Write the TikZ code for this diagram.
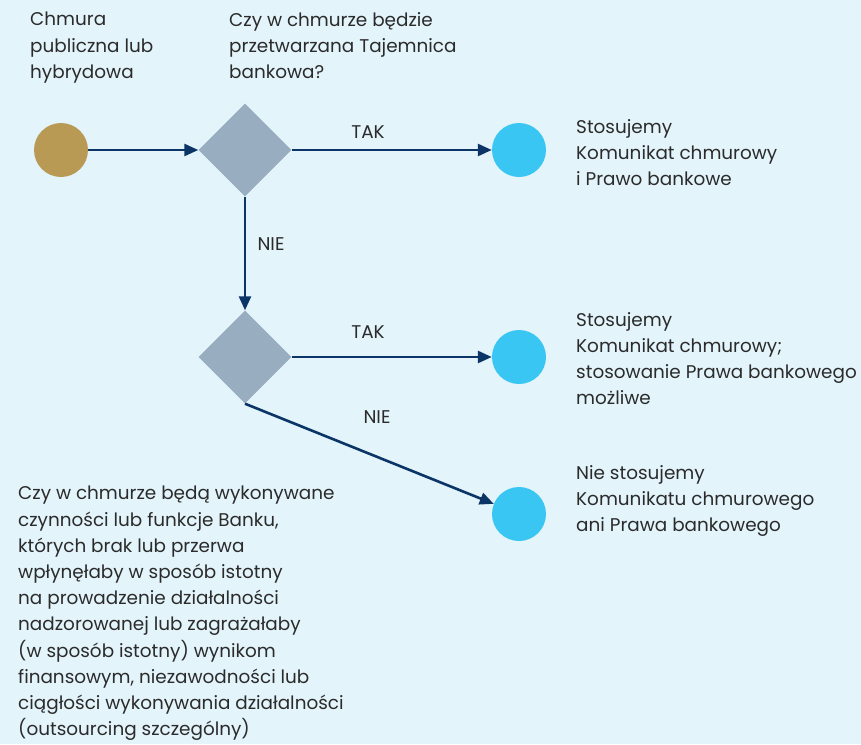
\documentclass[tikz,border=0pt]{standalone}
\usepackage{fontspec}
\setmainfont{Poppins}
\usetikzlibrary{arrows.meta,shapes.geometric}
\definecolor{bgblue}{HTML}{E3F4FB}
\definecolor{navy}{HTML}{0B3566}
\definecolor{gold}{HTML}{B89A55}
\definecolor{sky}{HTML}{3AC6F2}
\definecolor{slate}{HTML}{99ADC1}
\definecolor{ink}{HTML}{2B2B2B}
\begin{document}
\begin{tikzpicture}[x=1pt,y=-1pt,
  every node/.style={font=\fontsize{18.4}{26.2}\selectfont, text=ink},
  dot/.style={circle, minimum size=54pt, inner sep=0pt, draw=none},
  startdot/.style={dot, fill=gold},
  enddot/.style={dot, fill=sky},
  decision/.style={diamond, aspect=1, minimum size=93pt, inner sep=0pt, fill=slate, draw=none},
  flow/.style={draw=navy, line width=2.6pt, -{Triangle[length=14pt,width=12pt]}},
  txt/.style={anchor=north west, align=left, inner sep=0pt},
  lbl/.style={inner sep=0pt}]
  % canvas
  \fill[bgblue] (0,0) rectangle (861,744);
  \useasboundingbox (0,0) rectangle (861,744);

  % nodes
  \node[startdot] (start) at (61,150) {};
  \node[decision] (q1) at (245,150) {};
  \node[decision] (q2) at (245,357) {};
  \node[enddot] (r1) at (519,150) {};
  \node[enddot] (r2) at (519,357) {};
  \node[enddot] (r3) at (519,514) {};

  % connectors
  \draw[flow] (start) -- (q1.west);
  \draw[flow] (q1.east) -- (r1);
  \draw[flow] (q1.south) -- (q2.north);
  \draw[flow] (q2.east) -- (r2);
  \draw[flow] (q2.south) -- (r3);

  % branch labels
  \node[lbl] (tak1) at (368,132) {TAK};
  \node[lbl] (nie1) at (271,244) {NIE};
  \node[lbl] (tak2) at (368,332) {TAK};
  \node[lbl] (nie2) at (377,417) {NIE};

  % descriptions
  \node[txt] (tstart) at (30,12) {Chmura\\publiczna lub\\hybrydowa};
  \node[txt] (tq1) at (229,12) {Czy w chmurze będzie\\przetwarzana Tajemnica\\bankowa?};
  \node[txt] (tr1) at (576,119) {Stosujemy\\Komunikat chmurowy\\i Prawo bankowe};
  \node[txt] (tr2) at (576,312) {Stosujemy\\Komunikat chmurowy;\\stosowanie Prawa bankowego\\możliwe};
  \node[txt] (tr3) at (576,465) {Nie stosujemy\\Komunikatu chmurowego\\ani Prawa bankowego};
  \node[txt] (tq2) at (18,486) {Czy w chmurze będą wykonywane\\czynności lub funkcje Banku,\\których brak lub przerwa\\wpłynęłaby w sposób istotny\\na prowadzenie działalności\\nadzorowanej lub zagrażałaby\\(w sposób istotny) wynikom\\finansowym, niezawodności lub\\ciągłości wykonywania działalności\\(outsourcing szczególny)};
\end{tikzpicture}
\end{document}
